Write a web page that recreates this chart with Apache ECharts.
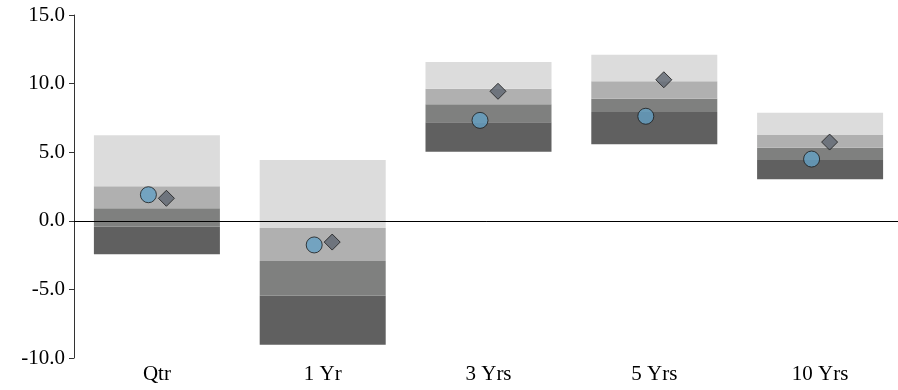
<!DOCTYPE html>
<html><head><meta charset="utf-8">
<script src="https://cdn.jsdelivr.net/npm/echarts@6/dist/echarts.min.js"></script>
<style>html,body{margin:0;padding:0;background:#fff}#c{width:898px;height:390px}</style>
</head><body><div id="c"></div>
<script>
const categories = ['Qtr', '1 Yr', '3 Yrs', '5 Yrs', '10 Yrs'];
const p95 = [-2.44, -9.03, 5.04, 5.58, 3.02];   // bottom of range
const p75 = [-0.43, -5.46, 7.18, 7.93, 4.43];
const p50 = [0.91, -2.93, 8.49, 8.90, 5.33];
const p25 = [2.51, -0.52, 9.63, 10.17, 6.25];
const p5  = [6.23, 4.43, 11.57, 12.11, 7.88];   // top of range
const circleVals = [1.90, -1.76, 7.32, 7.62, 4.50];
const diamondVals = [1.64, -1.55, 9.44, 10.28, 5.74];
const yTicks = { min: -10, max: 15, interval: 5 };

const bandColors = ['#606060', '#7f807f', '#b0b0b0', '#dcdcdc'];
const bounds = [p95, p75, p50, p25, p5];
const font = '"Liberation Serif", "DejaVu Serif", serif';

const series = [];
series.push({
  type: 'bar', stack: 'r', stackStrategy: 'all', barWidth: '76%', silent: true,
  itemStyle: { color: 'transparent' }, data: p95, z: 2
});
for (let i = 0; i < 4; i++) {
  series.push({
    type: 'bar', stack: 'r', stackStrategy: 'all', barWidth: '76%', silent: true,
    itemStyle: { color: bandColors[i] }, z: 2,
    data: bounds[i + 1].map((v, k) => +(v - bounds[i][k]).toFixed(4))
  });
}
series.push({
  type: 'line', data: [], silent: true, z: 1,
  markLine: { silent: true, symbol: 'none', label: { show: false },
    lineStyle: { color: '#000', width: 1, type: 'solid' }, data: [{ yAxis: 0 }] }
});
series.push({
  type: 'scatter', data: circleVals, symbol: 'circle', symbolSize: 16, symbolOffset: [-8.5, 0], z: 5,
  itemStyle: { color: '#64a0c4', borderColor: '#1a1a1a', borderWidth: 1 }
});
series.push({
  type: 'scatter', data: diamondVals, symbol: 'diamond', symbolSize: [16, 16], symbolOffset: [9.5, 0], z: 5,
  itemStyle: { color: '#5e6570', borderColor: '#1a1a1a', borderWidth: 1 }
});

const chart = echarts.init(document.getElementById('c'), null, { renderer: 'canvas' });
chart.setOption({
  animation: false,
  grid: { left: 74, width: 829, top: 15, bottom: 32, containLabel: false, outerBoundsMode: 'none' },
  xAxis: {
    type: 'category', data: categories,
    axisLine: { lineStyle: { color: '#333', width: 1 } },
    axisTick: { alignWithLabel: true, length: 5, lineStyle: { color: '#333' } },
    axisLabel: { color: '#000', fontFamily: font, fontSize: 21, margin: 6 },
    splitLine: { show: false }
  },
  yAxis: {
    type: 'value', min: yTicks.min, max: yTicks.max, interval: yTicks.interval,
    axisLine: { show: true, lineStyle: { color: '#333', width: 1 } },
    axisTick: { show: true, length: 5, lineStyle: { color: '#333' } },
    axisLabel: { color: '#000', fontFamily: font, fontSize: 21, margin: 9,
      formatter: v => v.toFixed(1) },
    splitLine: { show: false }
  },
  series: series
});
</script></body></html>
